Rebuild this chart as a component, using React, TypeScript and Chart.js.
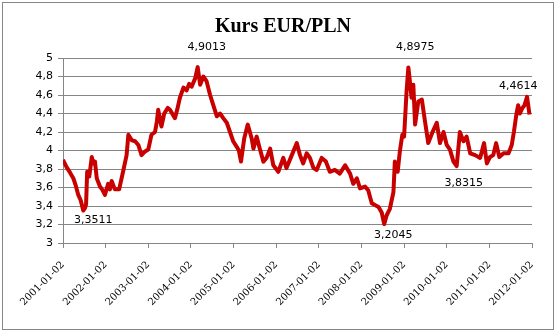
import React, { useEffect, useRef } from 'react';
import { Chart, registerables } from 'chart.js';

Chart.register(...registerables);

const chartTitle = 'Kurs EUR/PLN';

// month offset from 2001-01-02
const months = [
  0, 1.0, 2.0, 2.9, 3.6, 4.3, 5.0, 5.7, 6.2, 6.5, 6.8, 7.4, 8.1, 8.6, 9.0, 9.5, 10.4, 11.0, 11.8,
  12.7, 13.2, 13.7, 14.6, 15.8, 16.9, 17.9, 18.4, 19.4, 20.3, 21.2, 22.1, 23.1, 24.0, 24.9,
  25.9, 26.4, 26.8, 27.7, 28.5, 29.5, 30.1, 31.5, 32.2, 32.9, 33.9, 34.8, 35.5, 36.2, 37.2,
  37.9, 38.6, 39.5, 40.4, 41.4, 42.3, 43.3, 44.2, 45.1, 46.1, 47.0, 47.9, 48.9, 49.5, 50.1,
  51.0, 52.0, 52.6, 53.1, 53.6, 54.5, 55.4, 56.4, 57.3, 58.3, 59.2, 60.6, 62.0, 62.9, 64.4,
  65.8, 66.7, 67.6, 68.6, 69.5, 70.5, 71.4, 72.8, 74.0, 75.1, 76.5, 77.9, 79.4, 80.8, 81.7,
  82.7, 83.6, 85.0, 85.9, 86.9, 87.8, 88.8, 89.7, 90.4, 91.1, 92.0, 93.0, 93.4, 94.2, 94.8,
  95.5, 96.0, 96.7, 97.2, 97.6, 98.1, 98.6, 99.1, 100.0, 101.0, 101.9, 102.8, 103.9, 105.2,
  106.1, 107.1, 108.0, 108.9, 109.9, 110.8, 111.7, 112.7, 113.6, 114.6, 116.0, 117.4, 118.5,
  119.3, 120.2, 121.1, 121.9, 122.8, 124.0, 125.4, 126.3, 126.9, 127.6, 128.1, 128.6, 129.3,
  129.9, 130.6, 131.3,
];

const rates = [
  3.90, 3.82, 3.76, 3.70, 3.62, 3.52, 3.46, 3.3511, 3.38, 3.42, 3.77, 3.72, 3.93, 3.86, 3.88, 3.70, 3.61, 3.58, 3.52,
  3.64, 3.58, 3.67, 3.58, 3.58, 3.77, 3.95, 4.17, 4.11, 4.10, 4.06, 3.95, 3.99, 4.01, 4.17,
  4.20, 4.31, 4.44, 4.26, 4.40, 4.46, 4.44, 4.35, 4.45, 4.57, 4.68, 4.65, 4.72, 4.69, 4.78,
  4.9013, 4.71, 4.80, 4.75, 4.60, 4.49, 4.37, 4.40, 4.35, 4.30, 4.20, 4.10, 4.04, 4.00, 3.88,
  4.13, 4.28, 4.20, 4.13, 4.02, 4.15, 4.02, 3.88, 3.92, 4.02, 3.84, 3.77, 3.92, 3.81, 3.95,
  4.08, 3.95, 3.86, 3.97, 3.92, 3.81, 3.79, 3.92, 3.88, 3.77, 3.79, 3.75, 3.84, 3.75, 3.64,
  3.70, 3.59, 3.61, 3.57, 3.43, 3.41, 3.39, 3.33, 3.2045, 3.30, 3.37, 3.55, 3.88, 3.77, 3.99,
  4.17, 4.15, 4.64, 4.8975, 4.76, 4.57, 4.71, 4.28, 4.53, 4.55, 4.31, 4.08, 4.19, 4.30,
  4.08, 4.20, 4.06, 4.01, 3.88, 3.8315, 4.20, 4.10, 4.15, 3.97, 3.95, 3.92, 4.08,
  3.86, 3.93, 3.95, 4.08, 3.93, 3.97, 3.97, 4.06, 4.20, 4.39, 4.49, 4.40, 4.46,
  4.49, 4.58, 4.39,
];

const yearLabels = [
  '2001-01-02', '2002-01-02', '2003-01-02', '2004-01-02', '2005-01-02', '2006-01-02',
  '2007-01-02', '2008-01-02', '2009-01-02', '2010-01-02', '2011-01-02', '2012-01-02',
];

const yTicks = [3, 3.2, 3.4, 3.6, 3.8, 4, 4.2, 4.4, 4.6, 4.8, 5];

// data labels: anchor month, text, offset from point
const labelMonths = [5.7, 37.9, 90.4, 97.2, 110.8, 128.1];
const labelTexts = ['3,3511', '4,9013', '3,2045', '4,8975', '3,8315', '4,4614'];
const labelDx = [10, 9, 9, 7, 7, 0];
const labelDy = [10, -20, 11, -20, 17, -19];

const fmtComma = (v: number) => String(Number(v.toFixed(1))).replace('.', ',');

export default function App() {
  const ref = useRef<HTMLCanvasElement | null>(null);

  useEffect(() => {
    document.body.style.margin = '0';
    const canvas = ref.current;
    if (!canvas) return;

    const frame = {
      id: 'frame',
      beforeDraw(chart: any) {
        const ctx = chart.ctx;
        ctx.save();
        ctx.fillStyle = '#ffffff';
        ctx.fillRect(0, 0, chart.width, chart.height);
        ctx.strokeStyle = '#868686';
        ctx.lineWidth = 1;
        ctx.strokeRect(2.5, 2.5, chart.width - 4, chart.height - 6);
        ctx.restore();
      },
      afterDraw(chart: any) {
        const ctx = chart.ctx;
        ctx.save();
        ctx.fillStyle = '#000000';
        ctx.textAlign = 'center';
        ctx.textBaseline = 'middle';
        ctx.font = 'bold 20px "Liberation Serif", serif';
        ctx.fillText(chartTitle, 283, 27);
        ctx.font = '11px "DejaVu Sans", sans-serif';
        const xs = chart.scales.x;
        const ys = chart.scales.y;
        labelMonths.forEach((m, i) => {
          const idx = months.indexOf(m);
          const px = xs.getPixelForValue(m) + labelDx[i];
          const py = ys.getPixelForValue(rates[idx]) + labelDy[i];
          ctx.fillText(labelTexts[i], px, py);
        });
        ctx.restore();
      },
    };

    const chart = new Chart(canvas, {
      type: 'line',
      data: {
        datasets: [
          {
            data: months.map((m, i) => ({ x: m, y: rates[i] })),
            borderColor: '#C80000',
            borderWidth: 4,
            pointRadius: 0,
            tension: 0,
            fill: false,
            borderJoinStyle: 'round',
          },
        ],
      },
      options: {
        responsive: false,
        animation: false,
        layout: { padding: { top: 58, right: 23, left: 0, bottom: 0 } },
        plugins: { legend: { display: false }, tooltip: { enabled: false }, title: { display: false } },
        scales: {
          x: {
            type: 'linear',
            min: 0,
            max: 132,
            afterBuildTicks(scale: any) {
              scale.ticks = yearLabels.map((_, i) => ({ value: i * 12 }));
            },
            afterFit(scale: any) {
              scale.height = 90;
            },
            ticks: {
              autoSkip: false,
              minRotation: 45,
              maxRotation: 45,
              padding: 11,
              color: '#000000',
              font: { family: '"DejaVu Serif", serif', size: 10 },
              callback: (v: any) => yearLabels[Math.round(Number(v) / 12)] ?? '',
            },
            grid: { drawOnChartArea: false, drawTicks: true, tickLength: 5, color: '#868686' },
            border: { color: '#868686' },
          },
          y: {
            type: 'linear',
            min: 3,
            max: 5,
            afterBuildTicks(scale: any) {
              scale.ticks = yTicks.map((v) => ({ value: v }));
            },
            afterFit(scale: any) {
              scale.width = 63;
            },
            ticks: {
              padding: 5,
              color: '#000000',
              font: { family: '"DejaVu Sans", sans-serif', size: 11 },
              callback: (v: any) => fmtComma(Number(v)),
            },
            grid: { color: '#868686', tickLength: 5 },
            border: { color: '#868686' },
          },
        },
      },
      plugins: [frame],
    } as any);

    return () => chart.destroy();
  }, []);

  return (
    <div style={{ width: 555, height: 333 }}>
      <canvas ref={ref} width={555} height={333} style={{ display: 'block' }} />
    </div>
  );
}
